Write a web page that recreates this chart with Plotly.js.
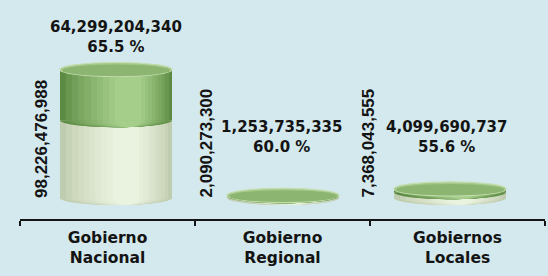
<!DOCTYPE html>
<html>
<head>
<meta charset="utf-8">
<script src="https://cdn.plot.ly/plotly-3.0.1.min.js"></script>
<style>
  html, body { margin: 0; padding: 0; background: #d3e9ed; }
  #chart { width: 548px; height: 276px; }
</style>
</head>
<body>
<div id="chart"></div>
<script>
// ---- data ----
const categories = ['Gobierno<br>Nacional', 'Gobierno<br>Regional', 'Gobiernos<br>Locales'];
const pim = [98226476988, 2090273300, 7368043555];        // lower (light) segment
const ejecucion = [64299204340, 1253735335, 4099690737];  // upper (green) segment
const avance = [65.5, 60.0, 55.6];                        // percent labels

// ---- layout constants ----
const W = 548, H = 276;
const M = { l: 20, r: 3, t: 10, b: 57 };
const plotH = H - M.t - M.b;
const plotW = W - M.l - M.r;
const pxPerCat = plotW / 3;
const yRange = [-26.6e9, 237.8e9];
const unitPerPx = (yRange[1] - yRange[0]) / plotH;
const capB = 7 * unitPerPx;            // ellipse half-height (data units)
const barW = 0.64;                      // cylinder width (category units)
const persp = [8.5, 0.5, -7.5].map(p => p / pxPerCat); // perspective shift
const xs = categories.map((c, i) => i);
const totals = pim.map((v, i) => v + ejecucion[i]);
const fmt = v => v.toLocaleString('en-US');

// shading ramps (styling only): edge colour -> highlight colour
function hex2rgb(h) { return [1, 3, 5].map(k => parseInt(h.slice(k, k + 2), 16)); }
function mix(a, b, t) {
  const A = hex2rgb(a), B = hex2rgb(b);
  return 'rgb(' + A.map((v, k) => Math.round(v + (B[k] - v) * t)).join(',') + ')';
}
function ramp(edge, hi, n, hiPos) {
  const out = [];
  for (let k = 0; k < n; k++) {
    const t = k / n;
    out.push({ w: barW * (1 - t * 0.85), dx: barW * (hiPos - 0.5) * t, c: mix(edge, hi, Math.pow(t, 0.8)) });
  }
  return out;
}
const creamLayers = ramp('#c0ccaf', '#eef6e3', 10, 0.6);
const greenLayers = ramp('#5c8b43', '#acd491', 10, 0.62);

const traces = [];
creamLayers.forEach(L => {
  traces.push({
    type: 'bar', x: xs, y: pim, base: 0, width: L.w,
    offset: xs.map(i => persp[i] + L.dx - L.w / 2),
    marker: { color: L.c, line: { width: 0 } },
    hoverinfo: 'skip', showlegend: false
  });
});
greenLayers.forEach(L => {
  traces.push({
    type: 'bar', x: xs, y: ejecucion, base: pim, width: L.w,
    offset: xs.map(i => persp[i] + L.dx - L.w / 2),
    marker: { color: L.c, line: { width: 0 } },
    hoverinfo: 'skip', showlegend: false
  });
});

// lower half-ellipse path in data coords
const K = 0.5523;
function halfEllipse(cx, a, cy, b) {
  return `M ${cx - a},${cy} C ${cx - a},${cy - K * b} ${cx - K * a},${cy - b} ${cx},${cy - b} ` +
         `C ${cx + K * a},${cy - b} ${cx + a},${cy - K * b} ${cx + a},${cy} Z`;
}

const shapes = [];
xs.forEach(i => {
  creamLayers.forEach(L => {
    const cx = i + persp[i] + L.dx;
    shapes.push({ type: 'path', xref: 'x', yref: 'y', layer: 'above',
      path: halfEllipse(cx, L.w / 2, 0, capB * Math.sqrt(1 - Math.pow(L.dx / (barW / 2), 2))),
      fillcolor: L.c, line: { width: 0 } });
  });
  greenLayers.forEach(L => {
    const cx = i + persp[i] + L.dx;
    shapes.push({ type: 'path', xref: 'x', yref: 'y', layer: 'above',
      path: halfEllipse(cx, L.w / 2, pim[i], capB * Math.sqrt(1 - Math.pow(L.dx / (barW / 2), 2))),
      fillcolor: L.c, line: { width: 0 } });
  });
  // top cap
  const cx = i + persp[i];
  shapes.push({ type: 'circle', xref: 'x', yref: 'y', layer: 'above',
    x0: cx - barW / 2, x1: cx + barW / 2, y0: totals[i] - capB, y1: totals[i] + capB,
    fillcolor: '#a3c889', line: { color: '#c4ddae', width: 1.2 } });
  shapes.push({ type: 'circle', xref: 'x', yref: 'y', layer: 'above',
    x0: cx - barW / 2 * 0.96, x1: cx + barW / 2 * 0.97,
    y0: totals[i] - capB * 0.95, y1: totals[i] + capB * 0.7,
    fillcolor: '#8bb571', line: { width: 0 } });
});

const labelFont = { family: 'DejaVu Sans', size: 15, weight: 700, color: '#141414' };
const sideFont = { family: 'Liberation Sans', size: 17, weight: 700, color: '#141414' };
const topShiftX = [8.5, -1, -11];
const topShiftY = [32.5, 58, 51.5];
const sideX = [42, 206, 368];

const annotations = [];
xs.forEach(i => {
  annotations.push({
    x: i, y: totals[i], xref: 'x', yref: 'y',
    text: fmt(ejecucion[i]) + '<br>' + avance[i].toFixed(1) + ' %',
    showarrow: false, xanchor: 'center', yanchor: 'middle',
    xshift: topShiftX[i], yshift: topShiftY[i], font: labelFont
  });
  annotations.push({
    x: i, y: 0, xref: 'x', yref: 'y',
    text: fmt(pim[i]), textangle: -90,
    showarrow: false, xanchor: 'center', yanchor: 'bottom',
    xshift: sideX[i] - (M.l + (i + 0.5) * pxPerCat), yshift: -2, font: sideFont
  });
});

const layout = {
  width: W, height: H,
  margin: M,
  paper_bgcolor: '#d3e9ed', plot_bgcolor: '#d3e9ed',
  barmode: 'overlay', bargap: 0,
  showlegend: false,
  xaxis: {
    type: 'linear', range: [-0.5, 2.5], fixedrange: true,
    tickvals: xs, ticktext: categories, ticks: '', ticklabelstandoff: 3,
    showgrid: false, zeroline: false,
    showline: true, linecolor: '#151515', linewidth: 2,
    tickfont: { family: 'DejaVu Sans', size: 15.5, weight: 700, color: '#141414' },
    minor: { tickvals: [-0.5, 0.5, 1.5, 2.5], ticks: 'outside', ticklen: 5, tickwidth: 2, tickcolor: '#151515', showgrid: false }
  },
  yaxis: { visible: false, range: yRange, fixedrange: true },
  shapes: shapes,
  annotations: annotations
};

Plotly.newPlot('chart', traces, layout, { staticPlot: true, displayModeBar: false });
</script>
</body>
</html>
